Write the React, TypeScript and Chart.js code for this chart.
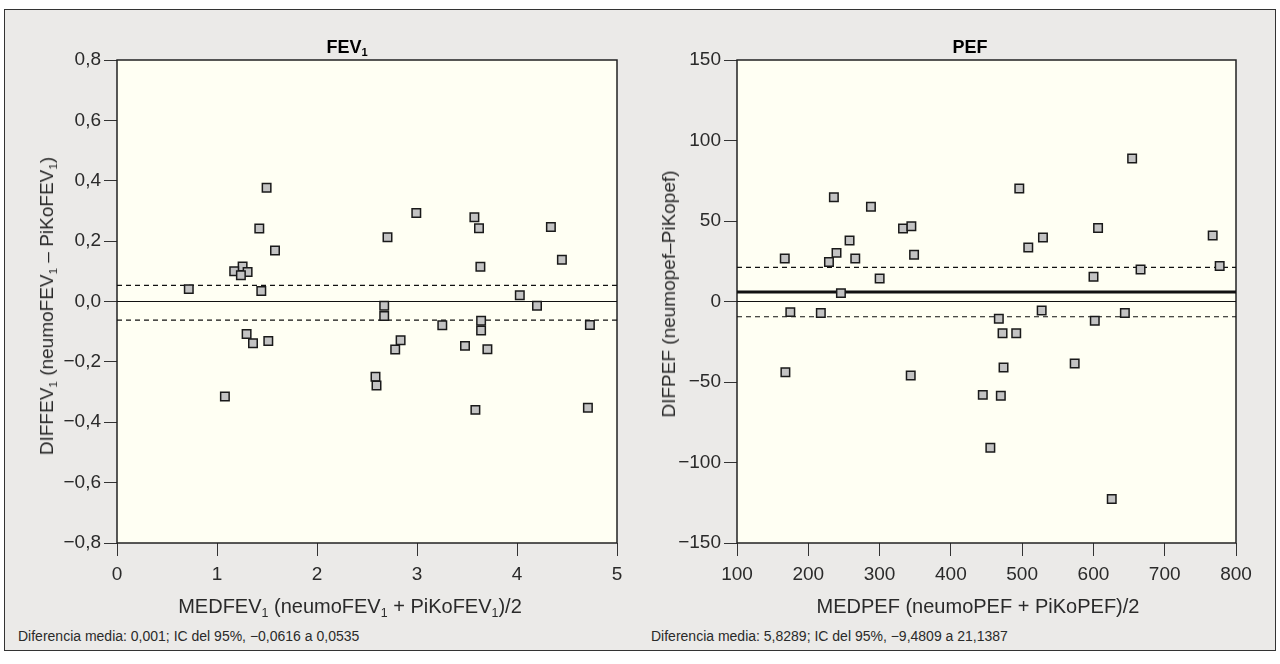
import React, { useEffect, useRef } from "react";
import { Chart, registerables } from "chart.js";

Chart.register(...registerables);

// ---------- DATA ----------
const fevX = [1.496, 1.423, 1.58, 1.256, 1.172, 1.306, 1.239, 0.718, 1.443, 1.296, 1.36, 1.513, 1.079, 2.585, 2.595, 2.993, 2.705, 3.574, 3.62, 4.339, 4.449, 3.634, 4.028, 4.2, 2.672, 2.672, 3.253, 3.641, 3.641, 4.729, 2.836, 2.782, 3.48, 3.704, 3.584, 4.709];
const fevY = [0.377, 0.242, 0.169, 0.116, 0.1, 0.098, 0.087, 0.041, 0.035, -0.108, -0.138, -0.131, -0.315, -0.249, -0.278, 0.293, 0.213, 0.279, 0.243, 0.247, 0.138, 0.115, 0.021, -0.014, -0.014, -0.048, -0.079, -0.064, -0.096, -0.078, -0.128, -0.159, -0.147, -0.158, -0.359, -0.352];

const pefX = [235.9, 287.9, 332.9, 344.6, 257.9, 239.6, 229.0, 265.9, 167.0, 348.4, 300.1, 245.8, 174.8, 217.6, 167.9, 343.7, 444.8, 654.3, 496.0, 606.5, 529.2, 508.6, 767.3, 777.1, 666.1, 600.1, 527.4, 644.1, 467.3, 601.9, 472.5, 491.7, 473.9, 573.7, 470.1, 455.4, 625.7];
const pefY = [64.8, 58.8, 45.3, 46.8, 37.9, 30.2, 24.5, 26.7, 26.7, 29.0, 14.3, 5.2, -6.6, -7.2, -43.9, -46.0, -58.0, 88.8, 70.2, 45.6, 39.8, 33.5, 41.0, 22.0, 19.9, 15.3, -5.6, -7.2, -10.7, -12.0, -19.7, -19.7, -41.0, -38.5, -58.6, -90.9, -122.7];

const fevZero = 0;
const fevLower = -0.0616;
const fevUpper = 0.0535;
const pefZero = 0;
const pefMean = 5.8289;
const pefLower = -9.4809;
const pefUpper = 21.1387;

const fevXTicks = [0, 1, 2, 3, 4, 5];
const fevXTickLabels = ["0", "1", "2", "3", "4", "5"];
const fevYTicks = [-0.8, -0.6, -0.4, -0.2, 0, 0.2, 0.4, 0.6, 0.8];
const fevYTickLabels = ["\u22120,8", "\u22120,6", "\u22120,4", "\u22120,2", "0,0", "0,2", "0,4", "0,6", "0,8"];
const pefXTicks = [100, 200, 300, 400, 500, 600, 700, 800];
const pefXTickLabels = ["100", "200", "300", "400", "500", "600", "700", "800"];
const pefYTicks = [-150, -100, -50, 0, 50, 100, 150];
const pefYTickLabels = ["\u2212150", "\u2212100", "\u221250", "0", "50", "100", "150"];

const FONT = "'Liberation Sans', Arial, Helvetica, sans-serif";
const TEXT = "#2a2a2a";

const areaPlugin = {
  id: "areaBg",
  beforeDraw(chart: any) {
    const { ctx, chartArea } = chart;
    const { left, top, right, bottom } = chartArea;
    ctx.save();
    ctx.fillStyle = "#fffff3";
    ctx.fillRect(left, top, right - left, bottom - top);
    ctx.restore();
  },
  beforeDatasetsDraw(chart: any) {
    const { ctx, chartArea } = chart;
    const { left, top, right, bottom } = chartArea;
    ctx.save();
    ctx.strokeStyle = "#222";
    ctx.lineWidth = 1.5;
    ctx.strokeRect(left, top, right - left, bottom - top);
    ctx.restore();
  },
};

function refLine(x0: number, x1: number, y: number, width: number, dash: number[]) {
  return {
    type: "line" as const,
    data: [
      { x: x0, y },
      { x: x1, y },
    ],
    borderColor: "#111",
    borderWidth: width,
    borderDash: dash,
    pointRadius: 0,
    pointHoverRadius: 0,
    fill: false,
  };
}

function makeConfig(opts: {
  xs: number[];
  ys: number[];
  xMin: number;
  xMax: number;
  yMin: number;
  yMax: number;
  xTicks: number[];
  xLabels: string[];
  yTicks: number[];
  yLabels: string[];
  lines: any[];
  yWidth: number;
  padRight: number;
}) {
  const points = opts.xs.map((x, i) => ({ x, y: opts.ys[i] }));
  return {
    type: "scatter" as const,
    data: {
      datasets: [
        {
          type: "scatter" as const,
          data: points,
          pointStyle: "rect",
          pointRadius: 6,
          pointHoverRadius: 6,
          backgroundColor: "#c3c3c3",
          borderColor: "#1a1a1a",
          borderWidth: 1.5,
        },
        ...opts.lines,
      ],
    },
    options: {
      animation: false,
      responsive: false,
      events: [],
      layout: { padding: { left: 0, right: opts.padRight, top: 60, bottom: 0 } },
      plugins: { legend: { display: false }, tooltip: { enabled: false }, title: { display: false } },
      scales: {
        x: {
          type: "linear",
          min: opts.xMin,
          max: opts.xMax,
          afterBuildTicks: (s: any) => {
            s.ticks = opts.xTicks.map((v) => ({ value: v }));
          },
          afterFit: (s: any) => {
            s.height = 57;
          },
          grid: { drawOnChartArea: false, drawTicks: true, tickLength: 13, tickColor: "#333", tickWidth: 1, color: "#333" },
          border: { display: false },
          ticks: {
            autoSkip: false,
            maxRotation: 0,
            padding: 7,
            color: TEXT,
            font: { family: FONT, size: 19 },
            callback: (_v: any, i: number) => opts.xLabels[i],
          },
        },
        y: {
          type: "linear",
          min: opts.yMin,
          max: opts.yMax,
          afterBuildTicks: (s: any) => {
            s.ticks = opts.yTicks.map((v) => ({ value: v }));
          },
          afterFit: (s: any) => {
            s.width = opts.yWidth;
          },
          grid: { drawOnChartArea: false, drawTicks: true, tickLength: 13, tickColor: "#333", tickWidth: 1, color: "#333" },
          border: { display: false },
          ticks: {
            autoSkip: false,
            padding: 3,
            color: TEXT,
            font: { family: FONT, size: 19 },
            callback: (_v: any, i: number) => opts.yLabels[i],
          },
        },
      },
    },
    plugins: [areaPlugin],
  };
}

function ChartCanvas({ config, left }: { config: any; left: number }) {
  const ref = useRef<HTMLCanvasElement | null>(null);
  useEffect(() => {
    if (!ref.current) return;
    const chart = new Chart(ref.current, config);
    return () => chart.destroy();
  }, []);
  return (
    <canvas
      ref={ref}
      width={640}
      height={600}
      style={{ position: "absolute", left, top: 0, width: 640, height: 600 }}
    />
  );
}

const abs = (x: number, y: number, extra: React.CSSProperties = {}): React.CSSProperties => ({
  position: "absolute",
  left: x,
  top: y,
  transform: "translate(-50%, -50%)",
  whiteSpace: "nowrap",
  fontFamily: FONT,
  color: TEXT,
  ...extra,
});

const subStyle: React.CSSProperties = { fontSize: "0.62em", verticalAlign: "-0.35em", lineHeight: 0 };

export default function App() {
  const fevConfig = makeConfig({
    xs: fevX,
    ys: fevY,
    xMin: 0,
    xMax: 5,
    yMin: -0.8,
    yMax: 0.8,
    xTicks: fevXTicks,
    xLabels: fevXTickLabels,
    yTicks: fevYTicks,
    yLabels: fevYTickLabels,
    lines: [
      refLine(0, 5, fevZero, 1.2, []),
      refLine(0, 5, fevUpper, 1.2, [5, 4]),
      refLine(0, 5, fevLower, 1.2, [5, 4]),
    ],
    yWidth: 117,
    padRight: 23,
  });
  const pefConfig = makeConfig({
    xs: pefX,
    ys: pefY,
    xMin: 100,
    xMax: 800,
    yMin: -150,
    yMax: 150,
    xTicks: pefXTicks,
    xLabels: pefXTickLabels,
    yTicks: pefYTicks,
    yLabels: pefYTickLabels,
    lines: [
      refLine(100, 800, pefMean, 3, []),
      refLine(100, 800, pefZero, 1.2, []),
      refLine(100, 800, pefUpper, 1.2, [5, 4]),
      refLine(100, 800, pefLower, 1.2, [5, 4]),
    ],
    yWidth: 97,
    padRight: 44,
  });

  return (
    <div style={{ position: "absolute", left: 0, top: 0, width: 1280, height: 664, overflow: "hidden", background: "#fff" }}>
      <div
        style={{
          position: "absolute",
          left: 4,
          top: 9,
          width: 1270,
          height: 640,
          border: "1.5px solid #333",
          background: "#ebeae8",
        }}
      />
      <ChartCanvas config={fevConfig} left={0} />
      <ChartCanvas config={pefConfig} left={640} />

      <div style={abs(347, 47, { fontWeight: "bold", fontSize: 18, color: "#000" })}>
        FEV<span style={subStyle}>1</span>
      </div>
      <div style={abs(970, 47, { fontWeight: "bold", fontSize: 18, color: "#000" })}>PEF</div>

      <div style={abs(47, 306, { fontSize: 19, transform: "translate(-50%, -50%) rotate(-90deg)" })}>
        DIFFEV<span style={subStyle}>1</span> (neumoFEV<span style={subStyle}>1</span> – PiKoFEV<span style={subStyle}>1</span>)
      </div>
      <div style={abs(669, 294, { fontSize: 19, transform: "translate(-50%, -50%) rotate(-90deg)" })}>
        DIFPEF (neumopef–PiKopef)
      </div>

      <div style={abs(350, 606, { fontSize: 20 })}>
        MEDFEV<span style={subStyle}>1</span> (neumoFEV<span style={subStyle}>1</span> + PiKoFEV<span style={subStyle}>1</span>)/2
      </div>
      <div style={abs(978, 606, { fontSize: 20 })}>MEDPEF (neumoPEF + PiKoPEF)/2</div>

      <div style={{ position: "absolute", left: 18, top: 628, fontFamily: FONT, fontSize: 14, color: TEXT, whiteSpace: "nowrap" }}>
        Diferencia media: 0,001; IC del 95%, −0,0616 a 0,0535
      </div>
      <div style={{ position: "absolute", left: 651, top: 628, fontFamily: FONT, fontSize: 14, color: TEXT, whiteSpace: "nowrap" }}>
        Diferencia media: 5,8289; IC del 95%, −9,4809 a 21,1387
      </div>
    </div>
  );
}
